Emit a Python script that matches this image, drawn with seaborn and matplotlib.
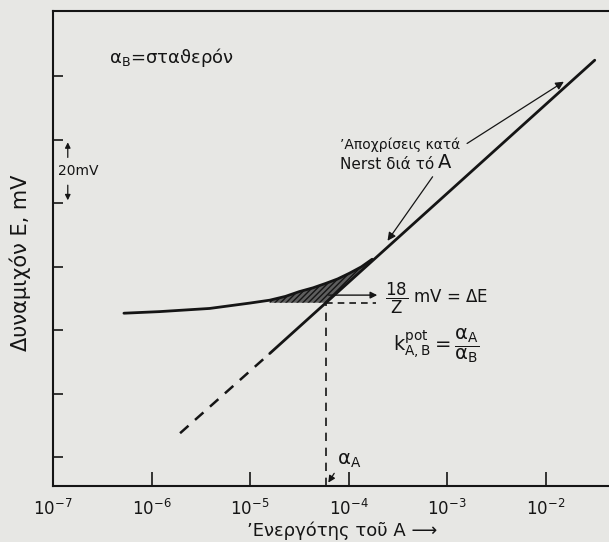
import numpy as np
import pandas as pd
import matplotlib
matplotlib.use("Agg")
import matplotlib.pyplot as plt
import seaborn as sns

# Καμπύλη δυναμικού: log10(ενεργότης Α) και E σε mV, διαβασμένα από το σχήμα
curve_log_a = [-6.28, -5.92, -5.41, -5.00, -4.80, -4.64, -4.50, -4.36, -4.23, -4.11, -3.99, -3.87, -3.76]
curve_E = [55.3, 55.8, 56.8, 58.5, 59.4, 60.6, 62.1, 63.3, 64.7, 66.1, 67.9, 69.9, 72.3]

# Ευθεία Nernst: διακεκομμένη προέκταση και συνεχές τμήμα
nernst_dash_log_a = [-5.71, -4.80]
nernst_dash_E = [17.5, 42.6]
nernst_log_a = [-4.80, -1.50]
nernst_E = [42.6, 135.0]

# σημείο α_A και στάθμη ΔΕ
a_A_log = -4.23
dE_level = 58.6
dE_arrow_E = 61.0
dE_arrow_end_log = -3.68
dE_dash_end_log = -3.72

x_ticks = [1e-7, 1e-6, 1e-5, 1e-4, 1e-3, 1e-2]
x_tick_labels = [r"$10^{-7}$", r"$10^{-6}$", r"$10^{-5}$", r"$10^{-4}$", r"$10^{-3}$", r"$10^{-2}$"]
y_ticks = [10, 30, 50, 70, 90, 110, 130]

ink = "#151515"
paper = "#e7e7e4"

sns.set_theme(style="ticks")
plt.rcParams["font.family"] = ["DejaVu Sans"]
plt.rcParams["mathtext.fontset"] = "dejavusans"

fig = plt.figure(figsize=(6.09, 5.42), dpi=100, facecolor=paper)
ax = fig.add_axes([53 / 609, 56 / 542, 556 / 609, 475 / 542])
ax.set_facecolor(paper)
ax.set_xscale("log")
ax.set_xlim(10 ** -7.0, 10 ** (-7.0 + 556 / 98.5))
ax.set_ylim(0.87, 150.5)

curve = pd.DataFrame({"a": np.power(10.0, curve_log_a), "E": curve_E})
line = pd.DataFrame({"a": np.power(10.0, nernst_log_a), "E": nernst_E})
dash = pd.DataFrame({"a": np.power(10.0, nernst_dash_log_a), "E": nernst_dash_E})

sns.lineplot(data=curve, x="a", y="E", ax=ax, color=ink, lw=2.0)
sns.lineplot(data=line, x="a", y="E", ax=ax, color=ink, lw=2.0)
sns.lineplot(data=dash, x="a", y="E", ax=ax, color=ink, lw=1.8, linestyle=(0, (4.5, 3.5)))

# γραμμοσκιασμένη περιοχή μεταξύ καμπύλης και max(στάθμη ΔE, ευθεία)
sel = [i for i, v in enumerate(curve_E) if v >= dE_level]
hx = np.array([curve_log_a[i] for i in sel])
hy = np.array([curve_E[i] for i in sel])
line_at = np.interp(hx, nernst_log_a, nernst_E)
lower = np.maximum(dE_level, line_at)
ax.fill_between(10 ** hx, lower, hy, facecolor="#5e5e5e", edgecolor=ink,
                hatch="//////", lw=0)

# διακεκομμένες βοηθητικές
ax.plot([10 ** a_A_log, 10 ** a_A_log], [0.87, dE_level], color=ink, lw=1.2,
        linestyle=(0, (5, 4)))
ax.plot([10 ** a_A_log, 10 ** dE_dash_end_log], [dE_level, dE_level], color=ink,
        lw=1.2, linestyle=(0, (4, 3)))
ax.annotate("", xy=(10 ** dE_arrow_end_log, dE_arrow_E), xytext=(10 ** a_A_log, dE_arrow_E),
            arrowprops=dict(arrowstyle="-|>", color=ink, lw=1.0, mutation_scale=10))

ax.text(10 ** -3.63, 60.0, r"$\dfrac{18}{\mathrm{Z}}$ mV = ΔE", fontsize=12, color=ink,
        ha="left", va="center")
ax.text(10 ** -3.55, 45.0,
        r"$\mathrm{k}^{\mathrm{pot}}_{\mathrm{A,B}} = \dfrac{\mathrm{\alpha_A}}{\mathrm{\alpha_B}}$",
        fontsize=14, color=ink, ha="left", va="center")
ax.text(10 ** -6.43, 136.0, r"α$_\mathrm{B}$=σταϑερόν", fontsize=13, color=ink,
        ha="left", va="center")

# Αποκρίσεις κατά Nernst
ax.text(10 ** -2.87, 108.3, "ʼΑποχρίσεις κατά", fontsize=10, color=ink, ha="right", va="center")
ax.text(10 ** -3.13, 102.2, "Nerst διά τό", fontsize=11, color=ink, ha="right", va="center")
ax.text(10 ** -3.09, 102.8, "Α", fontsize=14, color=ink, ha="left", va="center")
ax.annotate("", xy=(10 ** -1.79, 128.7), xytext=(10 ** -2.82, 108.3),
            arrowprops=dict(arrowstyle="-|>", color=ink, lw=0.9, mutation_scale=12))
ax.annotate("", xy=(10 ** -3.62, 77.4), xytext=(10 ** -3.13, 99.0),
            arrowprops=dict(arrowstyle="-|>", color=ink, lw=0.9, mutation_scale=12))

# α_A στον άξονα
ax.text(10 ** -4.12, 8.8, r"α$_\mathrm{A}$", fontsize=14, color=ink, ha="left", va="center")
ax.annotate("", xy=(10 ** -4.22, 1.2), xytext=(10 ** -4.13, 5.6),
            arrowprops=dict(arrowstyle="-|>", color=ink, lw=0.9, mutation_scale=10))

# κλίμακα 20 mV
ax.text(10 ** -6.95, 100, "20mV", fontsize=10, color=ink, ha="left", va="center")
ax.annotate("", xy=(10 ** -6.85, 110), xytext=(10 ** -6.85, 103.5),
            arrowprops=dict(arrowstyle="-|>", color=ink, lw=0.9, mutation_scale=8))
ax.annotate("", xy=(10 ** -6.85, 90), xytext=(10 ** -6.85, 96.5),
            arrowprops=dict(arrowstyle="-|>", color=ink, lw=0.9, mutation_scale=8))

ax.set_xticks(x_ticks)
ax.set_xticklabels(x_tick_labels)
ax.xaxis.set_minor_locator(matplotlib.ticker.NullLocator())
ax.set_yticks(y_ticks)
ax.set_yticklabels([])
ax.tick_params(axis="x", direction="in", length=10, width=1.2, color=ink,
               labelsize=12, labelcolor=ink, pad=9)
ax.tick_params(axis="y", direction="in", length=7, width=1.2, color=ink)

for side in ["left", "bottom", "top"]:
    ax.spines[side].set_color(ink)
    ax.spines[side].set_linewidth(1.5)
ax.spines["right"].set_visible(False)

ax.set_xlabel("ʼΕνεργότης τοῦ Α ⟶", fontsize=13, color=ink)
ax.xaxis.set_label_coords(0.52, -0.075)
ax.set_ylabel("Δυναμιχόν E, mV", fontsize=15, color=ink)
ax.yaxis.set_label_coords(-0.040, 0.47)

fig.savefig("out.png", dpi=100, facecolor=paper)
